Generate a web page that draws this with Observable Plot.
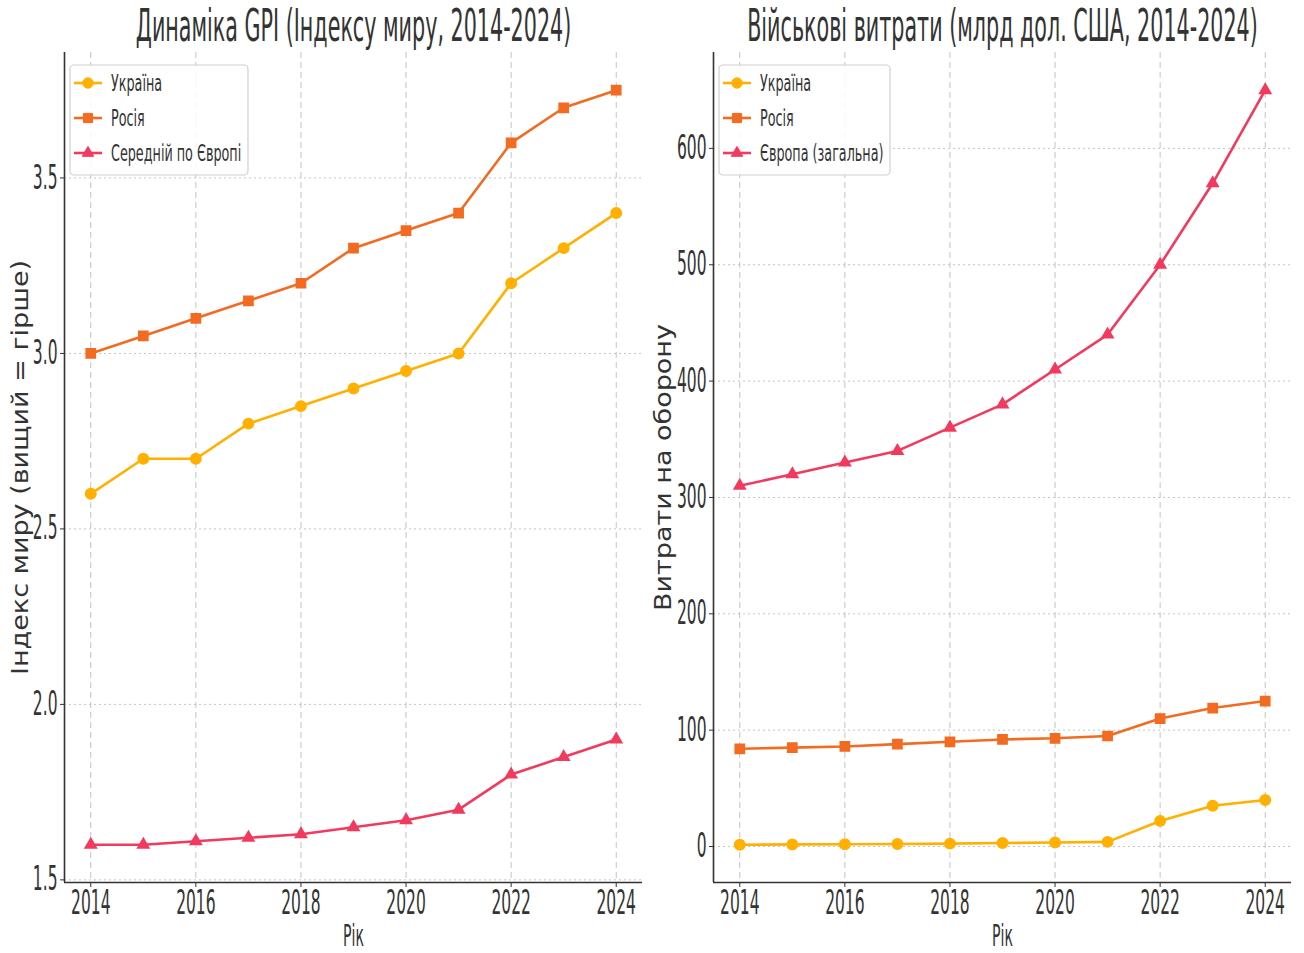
<!DOCTYPE html>
<html><head><meta charset="utf-8">
<script src="https://cdn.jsdelivr.net/npm/d3@7"></script>
<script src="https://cdn.jsdelivr.net/npm/@observablehq/plot@0.6"></script>
<style>
body{margin:0;background:#fff}
#wrap{display:flex;width:1304px;height:953px;background:#fff}
#wrap svg{display:block;flex:none}
</style>
</head><body><div id="wrap"></div>
<script>
const years = [2014,2015,2016,2017,2018,2019,2020,2021,2022,2023,2024];
const gpiUkraine = [2.6,2.7,2.7,2.8,2.85,2.9,2.95,3.0,3.2,3.3,3.4];
const gpiRussia  = [3.0,3.05,3.1,3.15,3.2,3.3,3.35,3.4,3.6,3.7,3.75];
const gpiEurope  = [1.6,1.6,1.61,1.62,1.63,1.65,1.67,1.70,1.80,1.85,1.90];
const milUkraine = [1.5,1.8,2,2.2,2.5,3,3.5,4,22,35,40];
const milRussia  = [84,85,86,88,90,92,93,95,110,119,125];
const milEurope  = [310,320,330,340,360,380,410,440,500,570,650];
const xTicks = [2014,2016,2018,2020,2022,2024];
const gpiTicks = [1.5,2.0,2.5,3.0,3.5];
const milTicks = [0,100,200,300,400,500,600];
const gpiSeries = ["Україна","Росія","Середній по Європі"];
const milSeries = ["Україна","Росія","Європа (загальна)"];
const colors = ["#FFB000","#F26B21","#F23A5E"];
const symbols = ["circle","square","triangle"];
const gpiTitle = "Динаміка GPI (Індексу миру, 2014-2024)";
const milTitle = "Військові витрати (млрд дол. США, 2014-2024)";
const gpiYLabel = "Індекс миру (вищий = гірше)";
const milYLabel = "Витрати на оборону";
const xLabel = "Рік";

const K = 0.47;      // horizontal condensing of text
const KLEG = 0.555;  // condensing of legend text

function pad(ext){const d=ext[1]-ext[0];return [ext[0]-0.05*d, ext[1]+0.05*d];}

function panel({arrays, series, yTicks, yFmt, title, ylabel, marginLeft, marginRight, ylabDx, legend}) {
  const data = years.flatMap((yr,i)=>series.map((s,j)=>({year:yr, value:arrays[j][i], series:s})));
  const xdom = pad(d3.extent(years));
  const ydom = pad(d3.extent(data, d=>d.value));
  const tri = series[2];
  const plot = Plot.plot({
    width: 652, height: 953,
    marginTop: 52, marginBottom: 71, marginLeft, marginRight,
    style: {fontFamily: "DejaVu Sans", fontSize: "33px", color: "#333", background: "#fff", overflow: "visible"},
    x: {domain: xdom, ticks: xTicks, tickFormat: d=>String(d), tickSize: 5, tickPadding: 3, label: null},
    y: {domain: ydom, ticks: yTicks, tickFormat: yFmt, tickSize: 4, tickPadding: 3, label: null},
    color: {domain: series, range: colors},
    symbol: {domain: series, range: symbols},
    marks: [
      Plot.ruleY(yTicks, {stroke: "#c4c4c4", strokeWidth: 1, strokeDasharray: "2,3"}),
      Plot.ruleX(xTicks, {stroke: "#c4c4c4", strokeWidth: 1, strokeDasharray: "6,4"}),
      Plot.ruleX([xdom[0]], {stroke: "#333", strokeWidth: 1.6}),
      Plot.ruleY([ydom[0]], {stroke: "#333", strokeWidth: 1.6}),
      Plot.line(data, {x: "year", y: "value", z: "series", stroke: "series", strokeWidth: 2.6}),
      Plot.dot(data.filter(d=>d.series!==tri), {x: "year", y: "value", fill: "series", stroke: "series", symbol: "series", r: 5.2}),
      Plot.dot(data.filter(d=>d.series===tri), {x: "year", y: "value", fill: "series", stroke: "series", symbol: "series", r: 4.2}),
      Plot.text([title], {frameAnchor: "top", lineAnchor: "middle", dy: -26, fontSize: 44, fill: "#333"}),
      Plot.text([xLabel], {frameAnchor: "bottom", lineAnchor: "middle", dy: 54, fontSize: 30, fill: "#333"}),
      Plot.text([ylabel], {frameAnchor: "left", textAnchor: "middle", lineAnchor: "middle", rotate: -90, dx: ylabDx, fontSize: 27, fill: "#333"})
    ]
  });
  // legend
  const svg = d3.select(plot);
  const g = svg.append("g").attr("text-anchor", "start");
  g.append("rect").attr("x", legend.x).attr("y", 65).attr("width", legend.w).attr("height", 110)
    .attr("rx", 4).attr("fill", "#fff").attr("fill-opacity", 0.85).attr("stroke", "#d0d0d0").attr("stroke-width", 1.2);
  const symTypes = [d3.symbolCircle, d3.symbolSquare, d3.symbolTriangle];
  const symSizes = [Math.PI*27, Math.PI*27, Math.PI*18];
  series.forEach((s,j)=>{
    const cy = 83 + j*35;
    g.append("line").attr("x1", legend.x+4).attr("x2", legend.x+32).attr("y1", cy).attr("y2", cy)
      .attr("stroke", colors[j]).attr("stroke-width", 2.6);
    g.append("path").attr("d", d3.symbol(symTypes[j], symSizes[j])())
      .attr("transform", `translate(${legend.x+18},${cy})`).attr("fill", colors[j]).attr("stroke", colors[j]);
    g.append("text").attr("class", "leg").attr("x", legend.x+41).attr("y", cy).attr("dy", "0.35em").attr("text-anchor", "start")
      .attr("font-size", 23).attr("fill", "#333").text(s);
  });
  // condense text
  plot.querySelectorAll("text").forEach(t=>{
    const tr = t.getAttribute("transform") || "";
    if (/rotate/.test(tr)) {
      t.setAttribute("transform", tr + " scale(1,0.85)");
    } else {
      const k = t.getAttribute("class") === "leg" ? KLEG : K;
      const x = +t.getAttribute("x") || 0, y = +t.getAttribute("y") || 0;
      t.setAttribute("transform", `${tr} translate(${x},${y}) scale(${k},1) translate(${-x},${-y})`);
    }
  });
  return plot;
}

const wrap = document.getElementById("wrap");
wrap.appendChild(panel({
  arrays: [gpiUkraine, gpiRussia, gpiEurope], series: gpiSeries, yTicks: gpiTicks,
  yFmt: d=>d.toFixed(1), title: gpiTitle, ylabel: gpiYLabel,
  marginLeft: 64, marginRight: 10, ylabDx: -44, legend: {x: 70, w: 178}
}));
wrap.appendChild(panel({
  arrays: [milUkraine, milRussia, milEurope], series: milSeries, yTicks: milTicks,
  yFmt: d=>String(d), title: milTitle, ylabel: milYLabel,
  marginLeft: 61, marginRight: 13, ylabDx: -50, legend: {x: 67, w: 171}
}));
</script>
</body></html>
